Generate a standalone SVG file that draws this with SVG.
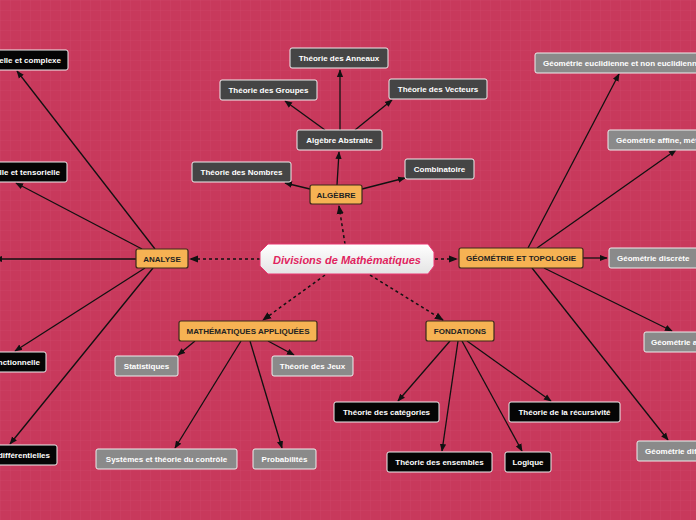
<svg xmlns="http://www.w3.org/2000/svg" width="696" height="520" viewBox="0 0 696 520">
<defs>
<pattern id="grid" width="10" height="10" patternUnits="userSpaceOnUse"><path d="M10 0H0V10" fill="none" stroke="#d04a6a" stroke-width="0.6"/></pattern>
<marker id="a" viewBox="0 0 10 10" refX="9" refY="5" markerWidth="6" markerHeight="6" orient="auto"><path d="M0 1L10 5L0 9z" fill="#111"/></marker>
<linearGradient id="cg" x1="0" y1="0" x2="0" y2="1"><stop offset="0" stop-color="#fff"/><stop offset="1" stop-color="#e4e4e4"/></linearGradient>
</defs>
<style>
text{font-family:"Liberation Sans",Arial,sans-serif;font-weight:bold;font-size:8px;text-anchor:middle}
.m rect{fill:#f6b253;stroke:#3a2a1a;stroke-width:1.2}
.m text{fill:#222}
.g rect{fill:#454545;stroke:#eee;stroke-width:1}
.b rect{fill:#050505;stroke:#eee;stroke-width:1}
.l rect{fill:#8a8a8a;stroke:#eee;stroke-width:1}
.g text,.b text,.l text{fill:#fff}
.c line{stroke:#111;stroke-width:1.3;marker-end:url(#a)}
.c .d{stroke-dasharray:3 3;stroke-width:1.5}
</style>
<rect width="696" height="520" fill="#c8395c"/>
<rect width="696" height="520" fill="url(#grid)"/>
<g class="c">
<line class="d" x1="345" y1="244" x2="339" y2="206"/>
<line class="d" x1="260" y1="259" x2="190" y2="259"/>
<line class="d" x1="435" y1="259" x2="457" y2="259"/>
<line class="d" x1="325" y1="275" x2="263" y2="320"/>
<line class="d" x1="370" y1="275" x2="443" y2="320"/>
<line x1="337" y1="185" x2="339" y2="152"/>
<line x1="340" y1="130" x2="340" y2="70"/>
<line x1="325" y1="130" x2="285" y2="101"/>
<line x1="355" y1="130" x2="392" y2="100"/>
<line x1="310" y1="189" x2="285" y2="183"/>
<line x1="362" y1="189" x2="405" y2="178"/>
<line x1="155" y1="249" x2="17" y2="71"/>
<line x1="142" y1="249" x2="16" y2="183"/>
<line x1="136" y1="259" x2="-5" y2="259"/>
<line x1="145" y1="268" x2="15" y2="351"/>
<line x1="153" y1="268" x2="10" y2="444"/>
<line x1="195" y1="341" x2="178" y2="355"/>
<line x1="268" y1="341" x2="294" y2="355"/>
<line x1="241" y1="341" x2="175" y2="448"/>
<line x1="250" y1="341" x2="282" y2="448"/>
<line x1="450" y1="341" x2="398" y2="401"/>
<line x1="467" y1="341" x2="551" y2="401"/>
<line x1="458" y1="341" x2="442" y2="451"/>
<line x1="462" y1="341" x2="522" y2="451"/>
<line x1="528" y1="248" x2="619" y2="74"/>
<line x1="537" y1="248" x2="676" y2="150"/>
<line x1="583" y1="258" x2="607" y2="258"/>
<line x1="544" y1="268" x2="672" y2="331"/>
<line x1="532" y1="268" x2="668" y2="440"/>
</g>
<g id="center"><path d="M268 244H428L434 252V266L428 274H268L260 266V252Z" fill="url(#cg)" stroke="#e83870" stroke-width="1"/><text x="347" y="264" style="font-size:11px;font-style:italic;fill:#e0245e">Divisions de Mathématiques</text></g>
<g id="algebre" class="m"><rect x="310" y="185" width="52" height="19" rx="2"/><text x="336" y="197.5">ALGÈBRE</text></g>
<g id="analyse" class="m"><rect x="136" y="249" width="52" height="19" rx="2"/><text x="162" y="261.5">ANALYSE</text></g>
<g id="geo" class="m"><rect x="459" y="248" width="124" height="20" rx="2"/><text x="521" y="261">GÉOMÉTRIE ET TOPOLOGIE</text></g>
<g id="appl" class="m"><rect x="179" y="321" width="138" height="20" rx="2"/><text x="248" y="334">MATHÉMATIQUES APPLIQUÉES</text></g>
<g id="fond" class="m"><rect x="426" y="321" width="68" height="20" rx="2"/><text x="460" y="334">FONDATIONS</text></g>
<g id="anneaux" class="g"><rect x="290" y="48" width="98" height="20" rx="2"/><text x="339" y="61">Théorie des Anneaux</text></g>
<g id="groupes" class="g"><rect x="220" y="80" width="97" height="20" rx="2"/><text x="268.5" y="93">Théorie des Groupes</text></g>
<g id="vecteurs" class="g"><rect x="389" y="79" width="98" height="20" rx="2"/><text x="438" y="92">Théorie des Vecteurs</text></g>
<g id="abstraite" class="g"><rect x="297" y="130" width="85" height="20" rx="2"/><text x="339.5" y="143">Algèbre Abstraite</text></g>
<g id="nombres" class="g"><rect x="192" y="162" width="99" height="20" rx="2"/><text x="241.5" y="175">Théorie des Nombres</text></g>
<g id="combi" class="g"><rect x="405" y="159" width="69" height="20" rx="2"/><text x="439.5" y="172">Combinatoire</text></g>
<g id="a1" class="b"><rect x="-20" y="50" width="88" height="20" rx="2"/><text x="61" y="63" style="text-anchor:end">Analyse réelle et complexe</text></g>
<g id="a2" class="b"><rect x="-30" y="162" width="97" height="20" rx="2"/><text x="60" y="175" style="text-anchor:end">Analyse vectorielle et tensorielle</text></g>
<g id="a3" class="b"><rect x="-30" y="352" width="76" height="20" rx="2"/><text x="40" y="365" style="text-anchor:end">Analyse fonctionnelle</text></g>
<g id="a4" class="b"><rect x="-30" y="445" width="87" height="20" rx="2"/><text x="50" y="458" style="text-anchor:end">Équations différentielles</text></g>
<g id="stat" class="l"><rect x="115" y="356" width="63" height="20" rx="2"/><text x="146.5" y="369">Statistiques</text></g>
<g id="jeux" class="l"><rect x="272" y="356" width="81" height="20" rx="2"/><text x="312.5" y="369">Théorie des Jeux</text></g>
<g id="sys" class="l"><rect x="96" y="449" width="141" height="20" rx="2"/><text x="166.5" y="462">Systèmes et théorie du contrôle</text></g>
<g id="proba" class="l"><rect x="253" y="449" width="63" height="20" rx="2"/><text x="284.5" y="462">Probabilités</text></g>
<g id="cat" class="b"><rect x="334" y="402" width="105" height="20" rx="2"/><text x="386.5" y="415">Théorie des catégories</text></g>
<g id="rec" class="b"><rect x="509" y="402" width="111" height="20" rx="2"/><text x="564.5" y="415">Théorie de la récursivité</text></g>
<g id="ens" class="b"><rect x="387" y="452" width="105" height="20" rx="2"/><text x="439.5" y="465">Théorie des ensembles</text></g>
<g id="log" class="b"><rect x="505" y="452" width="46" height="20" rx="2"/><text x="528" y="465">Logique</text></g>
<g id="g1" class="l"><rect x="535" y="53" width="180" height="20" rx="2"/><text x="543" y="66" style="text-anchor:start">Géométrie euclidienne et non euclidienne</text></g>
<g id="g2" class="l"><rect x="608" y="130" width="110" height="20" rx="2"/><text x="616" y="143" style="text-anchor:start">Géométrie affine, métrique</text></g>
<g id="g3" class="l"><rect x="609" y="248" width="90" height="20" rx="2"/><text x="617" y="261" style="text-anchor:start">Géométrie discrète</text></g>
<g id="g4" class="l"><rect x="644" y="332" width="80" height="20" rx="2"/><text x="651" y="345" style="text-anchor:start">Géométrie algébrique</text></g>
<g id="g5" class="l"><rect x="637" y="441" width="90" height="20" rx="2"/><text x="645" y="454" style="text-anchor:start">Géométrie différentielle</text></g>
</svg>
